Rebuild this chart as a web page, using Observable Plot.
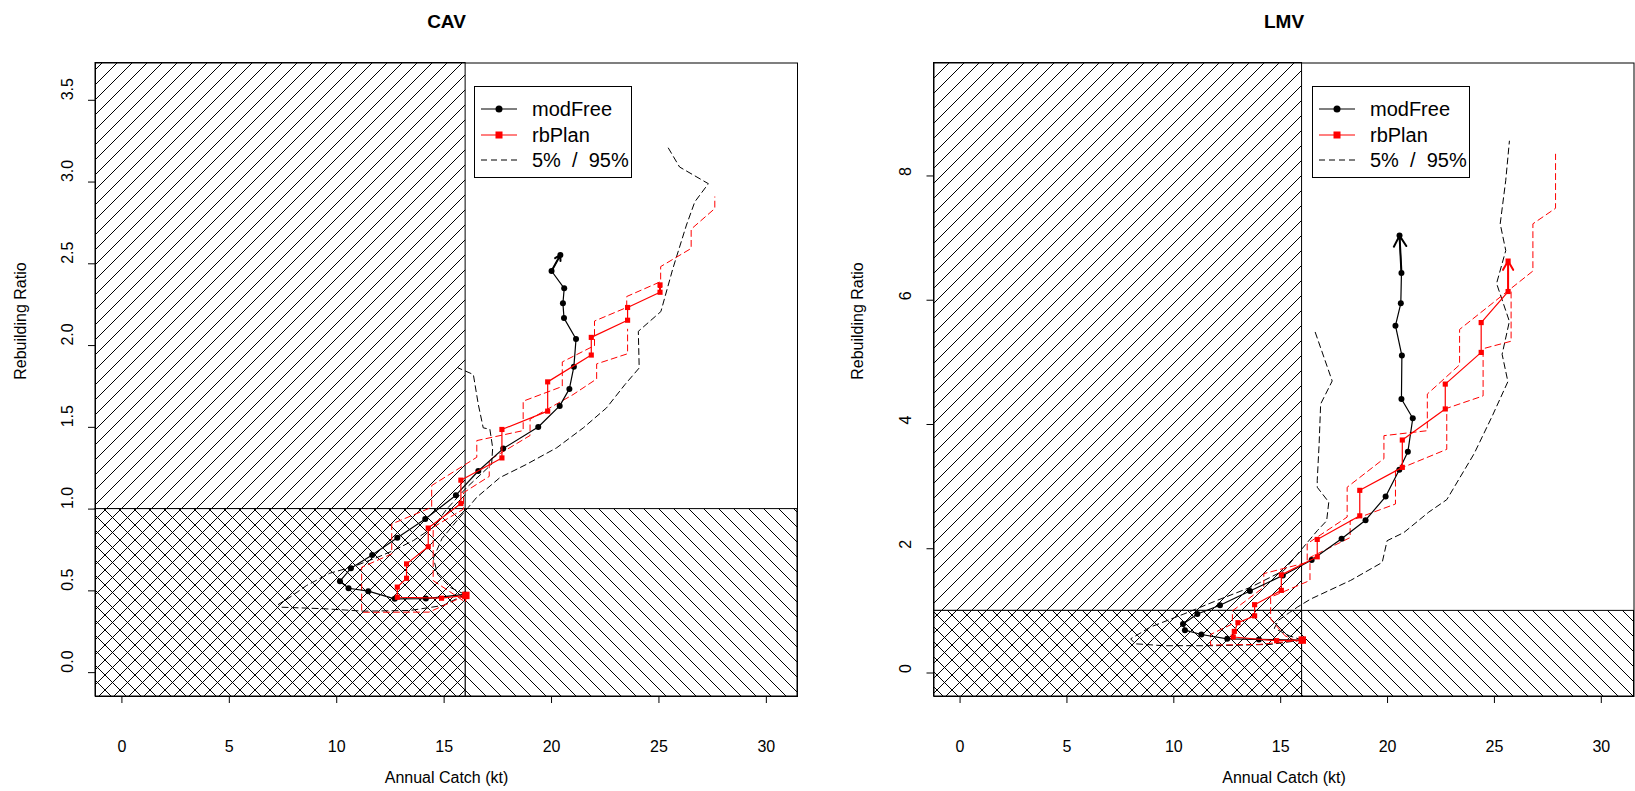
<!DOCTYPE html>
<html><head><meta charset="utf-8">
<script src="https://cdn.jsdelivr.net/npm/d3@7"></script>
<script src="https://cdn.jsdelivr.net/npm/@observablehq/plot@0.6"></script>
<style>
body{margin:0;background:#fff;width:1635px;height:791px;overflow:hidden;position:relative;font-family:"Liberation Sans",Arial,sans-serif;}
.panel{position:absolute;top:0;}
.legend{position:absolute;border:1px solid #000;background:#fff;box-sizing:border-box;font-size:20px;}
.legend .row{position:absolute;left:0;height:20px;}
.legend svg{position:absolute;left:0;top:0;}
.legend span{position:absolute;left:57px;top:0;line-height:20px;white-space:nowrap;}
</style></head><body>
<div id="cav" class="panel" style="left:0"></div>
<div id="lmv" class="panel" style="left:817px"></div>
<script>
// ---------- axis ticks ----------
const xTicks = [0, 5, 10, 15, 20, 25, 30];
const cavYTicks = [0, 0.5, 1, 1.5, 2, 2.5, 3, 3.5];
const lmvYTicks = [0, 2, 4, 6, 8];
const limitCatch = 16;   // catch limit (vertical divider)
const limitRatio = 1;    // rebuilding ratio limit (horizontal divider)

// ---------- CAV ----------
const cavFreeCatch = [15.97,14.15,12.70,11.47,10.55,10.15,10.66,11.65,12.82,14.12,15.55,16.59,17.75,19.38,20.38,20.83,21.04,21.14,20.58,20.53,20.59,20.00,20.41];
const cavFreeRatio = [0.478,0.453,0.451,0.498,0.516,0.559,0.638,0.720,0.825,0.939,1.085,1.233,1.370,1.502,1.631,1.735,1.871,2.040,2.168,2.259,2.350,2.456,2.554];
const cavPlanCatch = [16.01,14.88,12.82,12.82,13.25,13.25,14.26,14.26,15.78,15.78,17.69,17.69,19.82,19.82,21.85,21.85,23.54,23.54,25.05,25.05];
const cavPlanRatio = [0.472,0.455,0.461,0.523,0.577,0.665,0.770,0.884,1.034,1.177,1.313,1.487,1.599,1.778,1.942,2.050,2.155,2.233,2.326,2.371];
const cavFreeLoCatch = [15.97,14.96,13.41,11.23,9.37,7.43,7.28,7.82,8.60,9.68,10.77,11.80,12.63,13.56,14.49,15.12,16.05,17.21,17.26,17.13,16.82,16.59,16.36,15.66];
const cavFreeLoRatio = [0.478,0.411,0.380,0.376,0.391,0.400,0.417,0.461,0.533,0.608,0.648,0.700,0.746,0.807,0.888,1.000,1.132,1.274,1.375,1.488,1.497,1.640,1.823,1.863];
const cavFreeHiCatch = [15.97,15.30,14.70,14.50,14.90,15.60,16.12,16.51,17.60,18.84,20.24,21.48,22.56,23.42,24.08,24.04,25.09,25.65,26.28,26.67,27.30,25.96,25.41];
const cavFreeHiRatio = [0.478,0.520,0.600,0.700,0.820,0.930,1.010,1.071,1.193,1.274,1.375,1.497,1.619,1.762,1.863,2.087,2.208,2.472,2.737,2.879,2.990,3.092,3.214];
const cavPlanLoCatch = [16.01,16.00,14.49,14.49,15.90,15.90,17.10,17.10,19.00,19.00,21.00,22.10,22.10,23.54,23.54];
const cavPlanLoRatio = [0.472,0.430,0.563,0.889,1.000,1.100,1.200,1.300,1.450,1.550,1.700,1.796,1.888,1.950,2.100];
const cavPlanHiCatch = [16.01,14.30,11.16,11.16,12.56,12.56,14.42,14.42,16.52,16.52,18.68,18.68,20.50,20.50,22.00,22.00,23.50,23.50,25.08,25.08,26.50,26.50,27.60,27.60];
const cavPlanHiRatio = [0.472,0.370,0.369,0.644,0.726,0.909,1.011,1.144,1.317,1.419,1.480,1.660,1.750,1.900,2.000,2.150,2.233,2.300,2.391,2.483,2.594,2.712,2.838,2.909];

// ---------- LMV ----------
const lmvFreeCatch = [16.01,13.98,12.50,11.29,10.52,10.43,11.10,12.16,13.56,15.10,16.45,17.85,18.97,19.91,20.55,20.95,21.18,20.65,20.67,20.37,20.62,20.65,20.56];
const lmvFreeRatio = [0.53,0.54,0.55,0.62,0.69,0.79,0.95,1.09,1.32,1.57,1.82,2.16,2.46,2.84,3.27,3.56,4.10,4.41,5.11,5.59,5.95,6.44,7.04];
const lmvPlanCatch = [16.01,14.81,12.78,12.83,13.00,13.78,13.78,15.03,15.03,16.71,16.71,18.70,18.70,20.69,20.69,22.70,22.70,24.38,24.38,25.64,25.64];
const lmvPlanRatio = [0.53,0.52,0.58,0.67,0.81,0.92,1.10,1.33,1.58,1.87,2.15,2.53,2.94,3.31,3.75,4.25,4.65,5.16,5.64,6.14,6.63];
const lmvFreeLoCatch = [16.01,14.50,12.00,9.50,8.20,7.98,8.91,10.47,12.03,13.59,15.15,16.00,16.71,17.15,17.25,16.71,16.71,16.80,16.87,17.41,16.59];
const lmvFreeLoRatio = [0.53,0.46,0.44,0.44,0.47,0.55,0.74,0.95,1.17,1.38,1.65,2.00,2.29,2.45,2.75,2.99,3.10,3.70,4.33,4.70,5.51];
const lmvFreeHiCatch = [16.01,15.40,14.70,14.90,15.40,15.78,16.40,18.27,19.75,19.98,20.76,21.93,22.77,24.05,24.89,25.63,25.36,25.70,25.10,25.53,25.27,25.53,25.70];
const lmvFreeHiRatio = [0.53,0.60,0.72,0.85,0.97,1.06,1.19,1.49,1.78,2.13,2.26,2.59,2.79,3.53,4.13,4.69,5.13,5.66,6.27,6.80,7.23,7.93,8.56];
const lmvPlanLoCatch = [16.01,16.00,15.20,14.53,14.53,16.37,16.37,18.25,18.25,20.37,20.37,22.77,22.77,24.47,24.47,25.78,25.78];
const lmvPlanLoRatio = [0.53,0.47,0.60,0.87,1.22,1.49,1.86,2.18,2.45,2.72,3.26,3.60,4.26,4.46,5.22,5.34,6.19];
const lmvPlanHiCatch = [16.01,14.00,11.72,11.72,12.74,12.74,14.21,14.21,16.24,16.24,18.11,18.11,19.83,19.83,21.86,21.86,23.37,23.37,26.80,26.80,27.86,27.86];
const lmvPlanHiRatio = [0.53,0.46,0.45,0.62,0.79,1.00,1.38,1.60,1.78,2.08,2.51,2.99,3.45,3.82,3.90,4.49,4.96,5.53,6.47,7.23,7.48,8.35];

const legendLabels = ["modFree", "rbPlan", "5%  /  95%"];

function pts(cs, rs) { return cs.map((c, i) => ({c, r: rs[i]})); }

function drawPanel(o) {
  const [x0, x1] = o.xDomain, [y0, y1] = o.yDomain;
  const id = o.id;
  const upperLeft = [{x1: x0, x2: limitCatch, y1: limitRatio, y2: y1}];
  const lowerRight = [{x1: limitCatch, x2: x1, y1: y0, y2: limitRatio}];
  const lowerLeft = [{x1: x0, x2: limitCatch, y1: y0, y2: limitRatio}];
  const free = pts(o.freeC, o.freeR), plan = pts(o.planC, o.planR);
  const lastSeg = a => [{x1: a[a.length - 2].c, y1: a[a.length - 2].r, x2: a[a.length - 1].c, y2: a[a.length - 1].r}];
  const dash = "6,4";
  const svg = Plot.plot({
    width: o.width, height: 791,
    marginTop: 62.5, marginBottom: 95, marginLeft: o.marginLeft, marginRight: o.marginRight,
    x: {domain: o.xDomain}, y: {domain: o.yDomain},
    style: {fontFamily: "'Liberation Sans', Arial, sans-serif", fontSize: "16px", background: "white", color: "black", overflow: "visible"},
    marks: [
      Plot.rect(upperLeft, {x1: "x1", x2: "x2", y1: "y1", y2: "y2", fill: `url(#${id}-f)`, stroke: "black", strokeWidth: 1}),
      Plot.rect(lowerRight, {x1: "x1", x2: "x2", y1: "y1", y2: "y2", fill: `url(#${id}-b)`, stroke: "black", strokeWidth: 1}),
      Plot.rect(lowerLeft, {x1: "x1", x2: "x2", y1: "y1", y2: "y2", fill: `url(#${id}-x)`, stroke: "black", strokeWidth: 1}),
      Plot.line(pts(o.freeLoC, o.freeLoR), {x: "c", y: "r", stroke: "black", strokeWidth: 1, strokeDasharray: dash}),
      Plot.line(pts(o.freeHiC, o.freeHiR), {x: "c", y: "r", stroke: "black", strokeWidth: 1, strokeDasharray: dash}),
      Plot.line(pts(o.planLoC, o.planLoR), {x: "c", y: "r", stroke: "#ff0000", strokeWidth: 1, strokeDasharray: dash}),
      Plot.line(pts(o.planHiC, o.planHiR), {x: "c", y: "r", stroke: "#ff0000", strokeWidth: 1, strokeDasharray: dash}),
      Plot.line(free, {x: "c", y: "r", stroke: "black", strokeWidth: 1.2}),
      Plot.dot(free, {x: "c", y: "r", r: 3, fill: "black"}),
      Plot.arrow(lastSeg(free), {x1: "x1", y1: "y1", x2: "x2", y2: "y2", stroke: "black", strokeWidth: 2, headLength: 10, headAngle: 60}),
      Plot.line(plan, {x: "c", y: "r", stroke: "#ff0000", strokeWidth: 1.2}),
      Plot.dot(plan, {x: "c", y: "r", r: 2.9, symbol: "square", fill: "#ff0000"}),
      Plot.dot(plan.slice(0, 1), {x: "c", y: "r", r: 4.2, symbol: "square", fill: "#ff0000"}),
      Plot.arrow(lastSeg(plan), {x1: "x1", y1: "y1", x2: "x2", y2: "y2", stroke: "#ff0000", strokeWidth: 2, headLength: 10, headAngle: 60}),
      Plot.frame({stroke: "black", strokeWidth: 1}),
      Plot.axisX({ticks: xTicks, tickSize: 7, tickFormat: () => "", label: null}),
      Plot.axisY({ticks: o.yTicks, tickSize: 7, tickFormat: () => "", label: null}),
      Plot.text(xTicks, {x: d => d, frameAnchor: "bottom", lineAnchor: "middle", dy: 50.5, text: d => String(d), fontSize: 16}),
      Plot.text(o.yTicks, {y: d => d, frameAnchor: "left", lineAnchor: "middle", dx: -28, rotate: -90, text: o.yFmt, fontSize: 16}),
      Plot.text(["Annual Catch (kt)"], {frameAnchor: "bottom", lineAnchor: "middle", dy: 81, fontSize: 16}),
      Plot.text(["Rebuilding Ratio"], {frameAnchor: "left", lineAnchor: "middle", dx: o.yLabelDx, rotate: -90, fontSize: 16}),
      Plot.text([o.title], {frameAnchor: "top", lineAnchor: "middle", dy: -41.5, fontSize: 19, fontWeight: "bold"})
    ]
  });
  const w = 15;
  const f = `M-1,1L1,-1M0,${w}L${w},0M${w-1},${w+1}L${w+1},${w-1}`;
  const b = `M-1,${w-1}L1,${w+1}M0,0L${w},${w}M${w-1},-1L${w+1},1`;
  d3.select(svg).insert("defs", ":first-child").html(
    `<pattern id="${id}-f" patternUnits="userSpaceOnUse" width="${w}" height="${w}"><rect width="${w}" height="${w}" fill="white"/><path d="${f}" stroke="black" stroke-width="1" fill="none"/></pattern>` +
    `<pattern id="${id}-b" patternUnits="userSpaceOnUse" width="${w}" height="${w}"><rect width="${w}" height="${w}" fill="white"/><path d="${b}" stroke="black" stroke-width="1" fill="none"/></pattern>` +
    `<pattern id="${id}-x" patternUnits="userSpaceOnUse" width="${w}" height="${w}"><rect width="${w}" height="${w}" fill="white"/><path d="${f}${b}" stroke="black" stroke-width="1" fill="none"/></pattern>`
  );
  const host = document.getElementById(id);
  host.appendChild(svg);

  // legend
  const lg = document.createElement("div");
  lg.className = "legend";
  Object.assign(lg.style, {left: o.legendLeft + "px", top: "85.5px", width: "158px", height: "92px"});
  const rowsY = [12.5, 38, 63];
  const samples = [
    `<line x1="6" x2="42" y1="10" y2="10" stroke="black" stroke-width="1.2"/><circle cx="24" cy="10" r="3.5" fill="black"/>`,
    `<line x1="6" x2="42" y1="10" y2="10" stroke="#ff0000" stroke-width="1.2"/><rect x="20.5" y="6.5" width="7" height="7" fill="#ff0000"/>`,
    `<line x1="6" x2="42" y1="10" y2="10" stroke="black" stroke-width="1" stroke-dasharray="6,4"/>`
  ];
  legendLabels.forEach((t, i) => {
    const row = document.createElement("div");
    row.className = "row";
    row.style.top = rowsY[i] + "px";
    row.style.width = "150px";
    row.innerHTML = `<svg width="50" height="20">${samples[i]}</svg><span>${t.replace(/ /g, "&nbsp;")}</span>`;
    lg.appendChild(row);
  });
  host.appendChild(lg);
}

drawPanel({
  id: "cav", title: "CAV", width: 817, marginLeft: 95, marginRight: 20,
  xDomain: [-1.23, 31.45], yDomain: [-0.146, 3.728], yTicks: cavYTicks, yFmt: d3.format(".1f"), yLabelDx: -75,
  freeC: cavFreeCatch, freeR: cavFreeRatio, planC: cavPlanCatch, planR: cavPlanRatio,
  freeLoC: cavFreeLoCatch, freeLoR: cavFreeLoRatio, freeHiC: cavFreeHiCatch, freeHiR: cavFreeHiRatio,
  planLoC: cavPlanLoCatch, planLoR: cavPlanLoRatio, planHiC: cavPlanHiCatch, planHiR: cavPlanHiRatio,
  legendLeft: 474
});
drawPanel({
  id: "lmv", title: "LMV", width: 818, marginLeft: 116.5, marginRight: 1.5,
  xDomain: [-1.22, 31.53], yDomain: [-0.378, 9.818], yTicks: lmvYTicks, yFmt: d => String(d), yLabelDx: -76.5,
  freeC: lmvFreeCatch, freeR: lmvFreeRatio, planC: lmvPlanCatch, planR: lmvPlanRatio,
  freeLoC: lmvFreeLoCatch, freeLoR: lmvFreeLoRatio, freeHiC: lmvFreeHiCatch, freeHiR: lmvFreeHiRatio,
  planLoC: lmvPlanLoCatch, planLoR: lmvPlanLoRatio, planHiC: lmvPlanHiCatch, planHiR: lmvPlanHiRatio,
  legendLeft: 495
});
</script>
</body></html>
